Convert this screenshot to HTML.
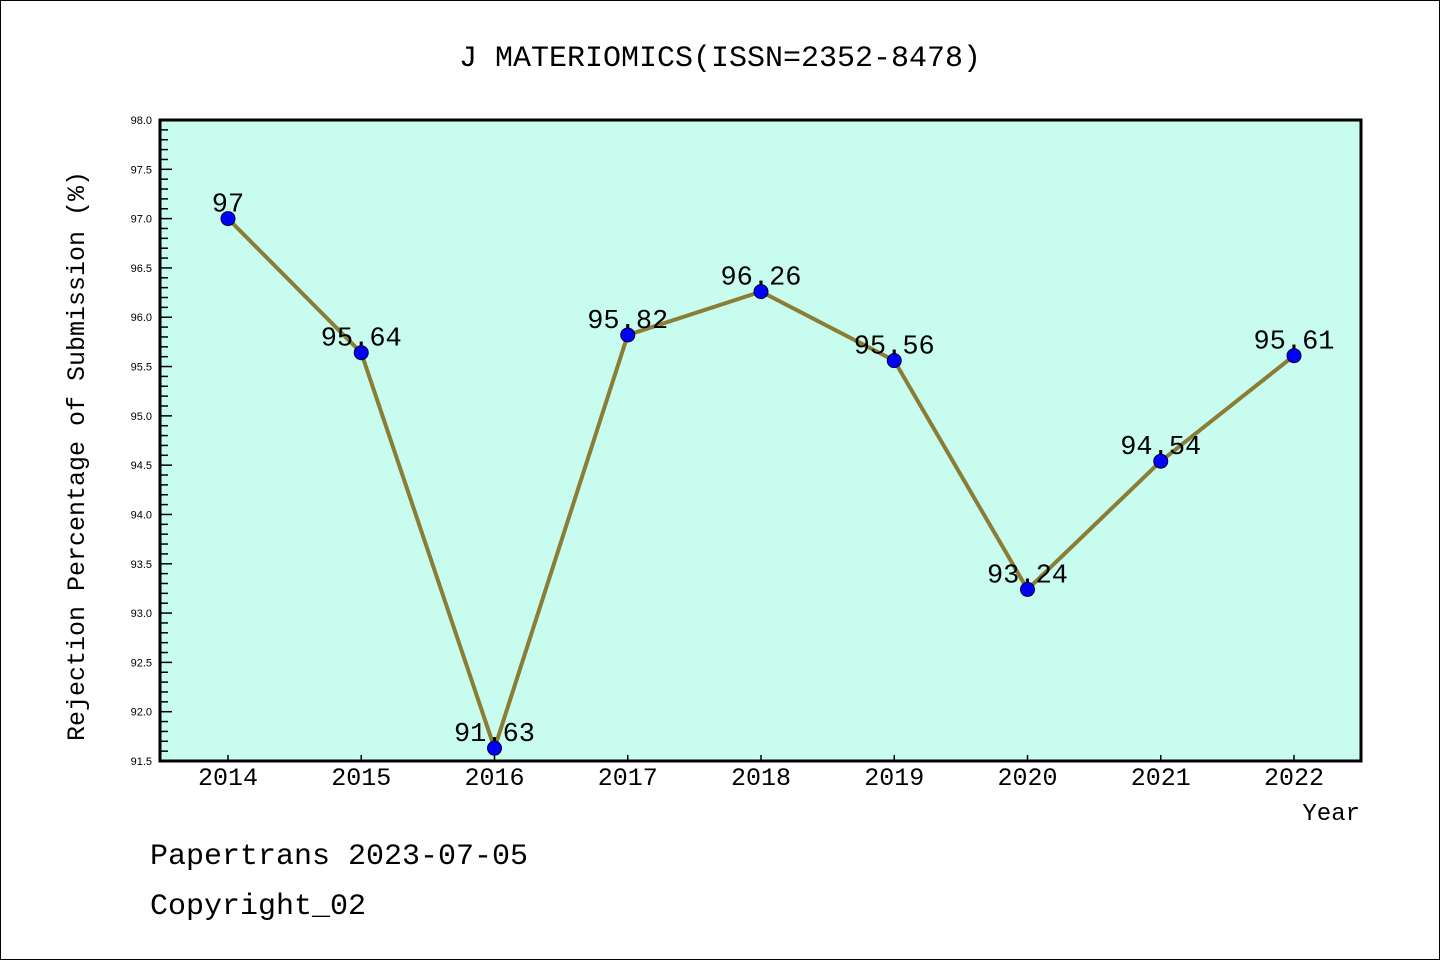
<!DOCTYPE html>
<html><head><meta charset="utf-8"><style>
html,body{margin:0;padding:0;background:#fff;}
svg{display:block;}
</style></head><body>
<svg width="1440" height="960" viewBox="0 0 1440 960" xmlns="http://www.w3.org/2000/svg">
<rect x="0.5" y="0.5" width="1439" height="959" fill="#fff" stroke="#000" stroke-width="1"/>
<text x="720" y="66" text-anchor="middle" font-family="Liberation Mono, WenQuanYi Zen Hei, monospace" font-size="30">J MATERIOMICS(ISSN=2352-8478)</text>
<rect x="160" y="120" width="1201" height="641" fill="#c7fcee"/>
<g id="yaxis"></g>
<g id="xaxis"></g>
<g id="series"></g>
<rect x="160" y="120" width="1201" height="641" fill="none" stroke="#000" stroke-width="3"/>
<text transform="translate(84,456) rotate(-90)" text-anchor="middle" font-family="Liberation Mono, monospace" font-size="25">Rejection Percentage of Submission (%)</text>
<text x="1360" y="820" text-anchor="end" font-family="Liberation Mono, monospace" font-size="24">Year</text>
<text x="150" y="864" font-family="Liberation Mono, monospace" font-size="30">Papertrans 2023-07-05</text>
<text x="150" y="914" font-family="Liberation Mono, monospace" font-size="30">Copyright_02</text>
</svg>
<script>
const years = ["2014","2015","2016","2017","2018","2019","2020","2021","2022"];
const values = [97, 95.64, 91.63, 95.82, 96.26, 95.56, 93.24, 94.54, 95.61];
const valueLabels = ["97","95.64","91.63","95.82","96.26","95.56","93.24","94.54","95.61"];
const yTicks = ["91.5","92.0","92.5","93.0","93.5","94.0","94.5","95.0","95.5","96.0","96.5","97.0","97.5","98.0"];
const NS="http://www.w3.org/2000/svg";
const yMin=91.5,yMax=98.0,plotTop=120,plotBot=761;
const xFirst=228,xStep=133.25;
function ys(v){return plotBot-(v-yMin)/(yMax-yMin)*(plotBot-plotTop);}
function xs(i){return xFirst+i*xStep;}
function mk(tag,attrs,parent){const e=document.createElementNS(NS,tag);for(const k in attrs)e.setAttribute(k,attrs[k]);parent.appendChild(e);return e;}
const ya=document.getElementById('yaxis'),xa=document.getElementById('xaxis'),sg=document.getElementById('series');
for(let k=0;k<=65;k++){const v=yMin+k*0.1;const y=ys(v);const major=k%5===0;
 const t=mk('line',{x1:160,x2:160+(major?12:8),y1:y,y2:y,stroke:'#000','stroke-width':1.5},ya);
 
 }
yTicks.forEach(s=>{const tx=mk('text',{x:152,y:ys(parseFloat(s))+4,'text-anchor':'end','font-family':'Liberation Sans, sans-serif','font-size':11},ya);tx.textContent=s;
 
 });
years.forEach((yr,i)=>{const x=xs(i);
 const t=mk('line',{x1:x,x2:x,y1:plotBot,y2:plotBot-6,stroke:'#000','stroke-width':1.5},xa);
 
 
 const tx=mk('text',{x:x,y:785,'text-anchor':'middle','font-family':'Liberation Mono, monospace','font-size':25},xa);tx.textContent=yr;
 
 });
const pts=values.map((v,i)=>xs(i)+','+ys(v)).join(' ');
const pl=mk('polyline',{points:pts,fill:'none',stroke:'#8b7d35','stroke-width':4,'stroke-linejoin':'round'},sg);


values.forEach((v,i)=>{const c=mk('circle',{cx:xs(i),cy:ys(v),r:7,fill:'#0000ff',stroke:'#000033','stroke-width':1},sg);
 
 
 const tx=mk('text',{x:xs(i),y:ys(v)-7,'text-anchor':'middle','font-family':'Liberation Mono, monospace','font-size':27},sg);tx.textContent=valueLabels[i];
 
 });
</script>
</body></html>
